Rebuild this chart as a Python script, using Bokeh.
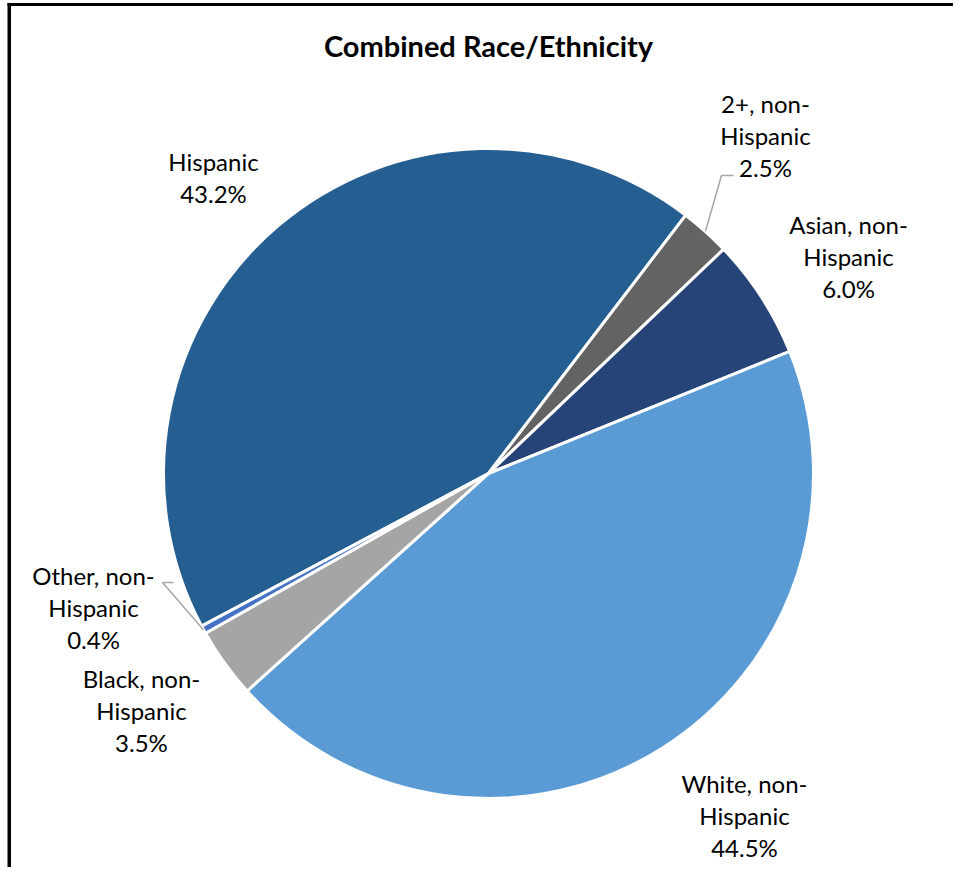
import math
from bokeh.plotting import figure
from bokeh.models import Range1d, ColumnDataSource
from bokeh.core.properties import value
from bokeh.embed import file_html
from bokeh.resources import INLINE

# ---- data (clockwise order, starting with Hispanic) ----
categories = ["Hispanic", "2+, non-Hispanic", "Asian, non-Hispanic",
              "White, non-Hispanic", "Black, non-Hispanic", "Other, non-Hispanic"]
shares = [43.2, 2.5, 6.0, 44.5, 3.5, 0.4]
colors = ["#255E91", "#636363", "#264478", "#5B9BD5", "#A5A5A5", "#4472C4"]
title_text = "Combined Race/Ethnicity"

# ---- layout (canvas pixels; y measured from top of picture) ----
W, H = 953, 867
def sx(X):
    return X
def sy(Y):
    return H - Y

cx, cy, R = sx(488), sy(473), 325
start_deg = 242.0  # clockwise from 12 o'clock
label_pos = [(213, 177), (765, 135), (848, 256), (744, 815), (141, 710), (93, 607)]
leader_label = {1: (733, 175, 721), 5: (173, 582, 162)}  # (x_start, y, x_end of horizontal)

p = figure(width=W, height=H, output_backend="svg", toolbar_location=None, title=None,
           x_range=Range1d(0, W), y_range=Range1d(0, H), min_border=0)
p.axis.visible = False
p.grid.visible = False
p.outline_line_color = None
p.background_fill_color = "white"
p.border_fill_color = "white"

total = sum(shares)
starts, ends, mids = [], [], []
acc = start_deg
for v in shares:
    d = v / total * 360.0
    a0, a1 = acc, acc + d
    starts.append(math.radians(90 - a0))
    ends.append(math.radians(90 - a1))
    mids.append(a0 + d / 2)
    acc = a1

src = ColumnDataSource(dict(start=starts, end=ends, color=colors))
p.wedge(x=cx, y=cy, radius=R, start_angle="start", end_angle="end", direction="clock",
        fill_color="color", line_color="white", line_width=3, source=src)

# leader lines for small slices
for i, (xa, ya, xb) in leader_label.items():
    m = math.radians(mids[i])
    ex = cx + R * math.sin(m)
    ey = cy + R * math.cos(m)
    p.line([ex, sx(xb), sx(xa)], [ey, sy(ya), sy(ya)], line_color="#A6A6A6", line_width=1.5)

labels = [c.replace("non-", "non-\n") + "\n" + f"{v:.1f}%" for c, v in zip(categories, shares)]
lsrc = ColumnDataSource(dict(x=[sx(a) for a, b in label_pos], y=[sy(b) for a, b in label_pos], t=labels))
p.text(x="x", y="y", text="t", source=lsrc, text_align="center", text_baseline="middle",
       text_font=value("Lato"), text_font_size="24px", text_color="black", text_line_height=1.1)

p.text(x=[sx(488)], y=[sy(45)], text=[title_text], text_align="center", text_baseline="middle",
       text_font=value("Lato"), text_font_size="29px", text_font_style="bold", text_color="black")

# frame (left and top)
p.quad(left=[sx(7)], right=[sx(10.5)], bottom=[0], top=[sy(2.5)], fill_color="black", line_color=None)
p.quad(left=[sx(7)], right=[W], bottom=[sy(5.5)], top=[sy(2.5)], fill_color="black", line_color=None)

open("out.html", "w").write(file_html(p, INLINE))
